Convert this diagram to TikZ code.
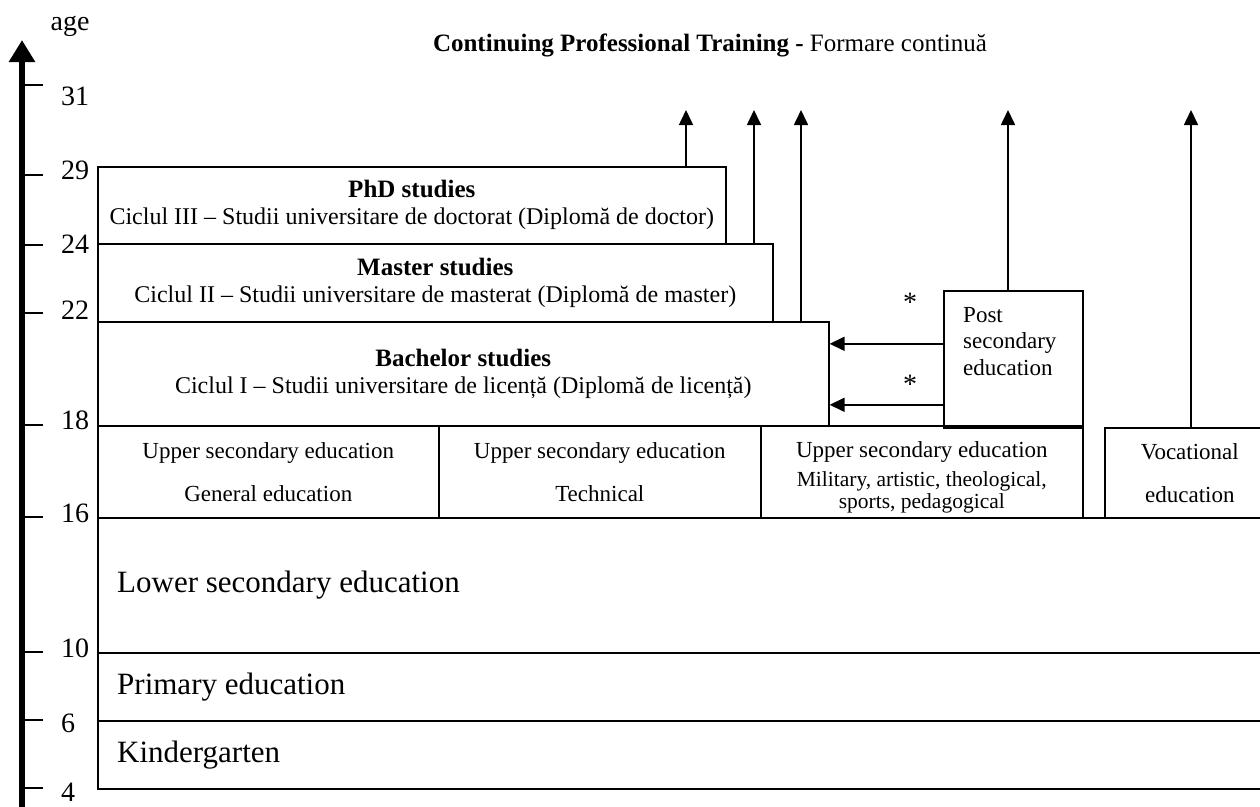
\documentclass[tikz,border=0pt]{standalone}
\usepackage{fontspec}
\setmainfont{Liberation Serif}
\usetikzlibrary{arrows.meta}

\newcommand\smallfnt{\fontsize{21.5}{22}\selectfont}

\begin{document}
\begin{tikzpicture}[x=1pt, y=-1pt,
    box/.style={draw, line width=1.6pt, rectangle, inner sep=0pt, anchor=north west, align=center,
                font=\fontsize{24}{27}\selectfont},
    bigtext/.style={anchor=west, inner sep=0pt, font=\fontsize{31}{33}\selectfont},
    agelabel/.style={anchor=west, inner sep=0pt, font=\fontsize{28}{30}\selectfont},
    upto/.style={line width=1.6pt, -{Triangle[length=15pt, width=14pt]}}]
  \useasboundingbox (0,0) rectangle (1260,806);
  % age axis
  \coordinate (axisbot) at (22,812);
  \coordinate (axistop) at (22,40);
  \draw[line width=6pt, -{Triangle[length=22pt, width=25pt]}] (axisbot) -- (axistop);
  \node[agelabel, anchor=center] (age) at (70,26) {age};
  \foreach \a/\y/\ly in {31/85/96, 29/175/170, 24/245/244, 22/313/310, 18/425/420,
                         16/517/513, 10/652/648, 6/720/723, 4/788/792}{
    \draw[line width=1.6pt] (24,\y) -- (43,\y);
    \node[agelabel] (tick\a) at (61,\ly) {\a};
  }
  % title
  \node[font=\fontsize{25}{27}\selectfont] (cpt) at (710,45)
       {\textbf{Continuing Professional Training -} Formare continuă};
  % higher education
  \node[box, minimum width=628, minimum height=77]  (phd)      at (97,166)
       {\textbf{\fontsize{25}{27}\selectfont PhD studies}\\Ciclul III -- Studii universitare de doctorat (Diplomă de doctor)};
  \node[box, minimum width=675, minimum height=78]  (master)   at (97,243)
       {\textbf{\fontsize{25}{27}\selectfont Master studies}\\Ciclul II -- Studii universitare de masterat (Diplomă de master)};
  \node[box, minimum width=731, minimum height=104] (bachelor) at (97,321)
       {\textbf{\fontsize{25}{27}\selectfont Bachelor studies}\\Ciclul I -- Studii universitare de licență (Diplomă de licență)};
  \node[box, minimum width=139, minimum height=137] (post)     at (943,290) {};
  \node[anchor=north west, inner sep=0pt, align=left, font=\fontsize{23}{26.5}\selectfont] (posttext)
       at (963,307) {Post\\secondary\\education};
  % upper secondary
  \node[box, minimum width=341, minimum height=92, font=\fontsize{23}{43}\selectfont] (upgen)  at (97,425)
       {Upper secondary education\\General education};
  \node[box, minimum width=322, minimum height=92, font=\fontsize{23}{43}\selectfont] (uptech) at (438,425)
       {Upper secondary education\\Technical};
  \node[box, minimum width=322, minimum height=92, font=\fontsize{23}{27}\selectfont] (upspec) at (760,425)
       {\rule{0pt}{27pt}Upper secondary education\\[2pt]\smallfnt Military, artistic, theological,\\[-5pt]\smallfnt sports, pedagogical};
  \node[box, minimum width=170, minimum height=90, font=\fontsize{23}{43}\selectfont] (voc)    at (1104,427)
       {Vocational\\education};
  % compulsory education
  \node[box, minimum width=1175, minimum height=135] (lower)   at (97,517) {};
  \node[box, minimum width=1175, minimum height=68]  (primary) at (97,652) {};
  \node[box, minimum width=1175, minimum height=68]  (kinder)  at (97,720) {};
  \node[bigtext] (lowertext)   at ([xshift=20]lower.west)   {Lower secondary education};
  \node[bigtext] (primarytext) at ([xshift=20]primary.west) {Primary education};
  \node[bigtext] (kindertext)  at ([xshift=20]kinder.west)  {Kindergarten};
  % continuing training arrows
  \coordinate (cpt1) at (686,110);
  \coordinate (cpt2) at (754,110);
  \coordinate (cpt3) at (801,110);
  \coordinate (cpt4) at (1008,110);
  \coordinate (cpt5) at (1191,110);
  \draw[upto] (phd.north -| cpt1)      -- (cpt1);
  \draw[upto] (master.north -| cpt2)   -- (cpt2);
  \draw[upto] (bachelor.north -| cpt3) -- (cpt3);
  \draw[upto] (post.north -| cpt4)     -- (cpt4);
  \draw[upto] (voc.north -| cpt5)      -- (cpt5);
  % access to bachelor studies
  \draw[upto] ([yshift=15.5]post.west)  -- ([yshift=15.5]post.west -| bachelor.east);
  \draw[upto] ([yshift=-45.5]post.west) -- ([yshift=-45.5]post.west -| bachelor.east);
  \node[font=\fontsize{28}{30}\selectfont] (star1) at (910,302) {*};
  \node[font=\fontsize{28}{30}\selectfont] (star2) at (910,384) {*};
\end{tikzpicture}
\end{document}
